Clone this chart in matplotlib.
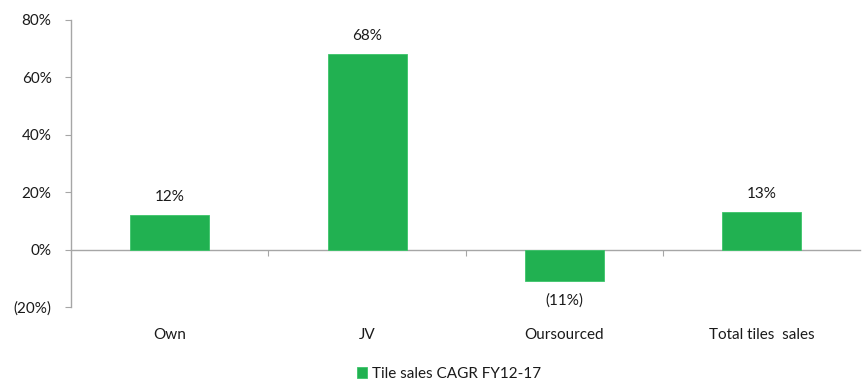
import matplotlib
matplotlib.use("Agg")
import matplotlib.pyplot as plt
import numpy as np

categories = ["Own", "JV", "Oursourced", "Total tiles  sales"]
cagr = [12, 68, -11, 13]
series_name = "Tile sales CAGR FY12-17"
y_ticks = [-20, 0, 20, 40, 60, 80]

green = "#21B151"
grey = "#A6A6A6"
text_color = "#1A1A1A"

plt.rcParams["font.family"] = ["Lato", "DejaVu Sans"]
FS = 11

def pct(v):
    return f"({abs(v):.0f}%)" if v < 0 else f"{v:.0f}%"

fig = plt.figure(figsize=(8.63, 3.83), dpi=100)
ax = fig.add_axes([0.0823, 0.198, 0.9147, 0.750])

x = np.arange(len(categories))
bars = ax.bar(x, cagr, width=0.4, color=green, edgecolor="#3CC46A", linewidth=0.6,
              label=series_name, zorder=2)

ymin, ymax = -20, 80
ax.set_xlim(-0.5, len(categories) - 0.5)
ax.set_ylim(ymin, ymax)
ax.set_yticks(y_ticks)
ax.set_yticklabels([pct(v) for v in y_ticks], fontsize=FS, color=text_color)

for s in ["top", "right", "bottom"]:
    ax.spines[s].set_visible(False)
ax.spines["left"].set_color(grey)
ax.spines["left"].set_linewidth(1.0)
ax.tick_params(axis="y", length=4, color=grey, pad=10)

# category labels below the plot area
ax.set_xticks(x)
ax.set_xticklabels(categories, fontsize=FS, color=text_color)
ax.tick_params(axis="x", length=0, pad=15)

# zero line with category boundary ticks
zero_axis = ax.secondary_xaxis((0 - ymin) / (ymax - ymin))
zero_axis.spines["bottom"].set_color(grey)
zero_axis.spines["bottom"].set_linewidth(1.0)
zero_axis.spines["bottom"].set_zorder(3)
zero_axis.set_xticks(np.arange(0.5, len(categories) - 0.5, 1.0))
zero_axis.set_xticklabels([])
zero_axis.tick_params(axis="x", length=4, color=grey, direction="out")

for xi, v in zip(x, cagr):
    if v >= 0:
        ax.annotate(pct(v), (xi, v), xytext=(0, 8), textcoords="offset points",
                    ha="center", va="bottom", fontsize=FS, color=text_color)
    else:
        ax.annotate(pct(v), (xi, v), xytext=(0, -9), textcoords="offset points",
                    ha="center", va="top", fontsize=FS, color=text_color)

fig.legend(handles=[bars], labels=[series_name], loc="center",
           bbox_to_anchor=(449 / 863, 1 - 374 / 383), frameon=False,
           fontsize=FS, handlelength=0.7, handleheight=0.7, handletextpad=0.3,
           labelcolor=text_color)

fig.savefig("out.png", dpi=100)
